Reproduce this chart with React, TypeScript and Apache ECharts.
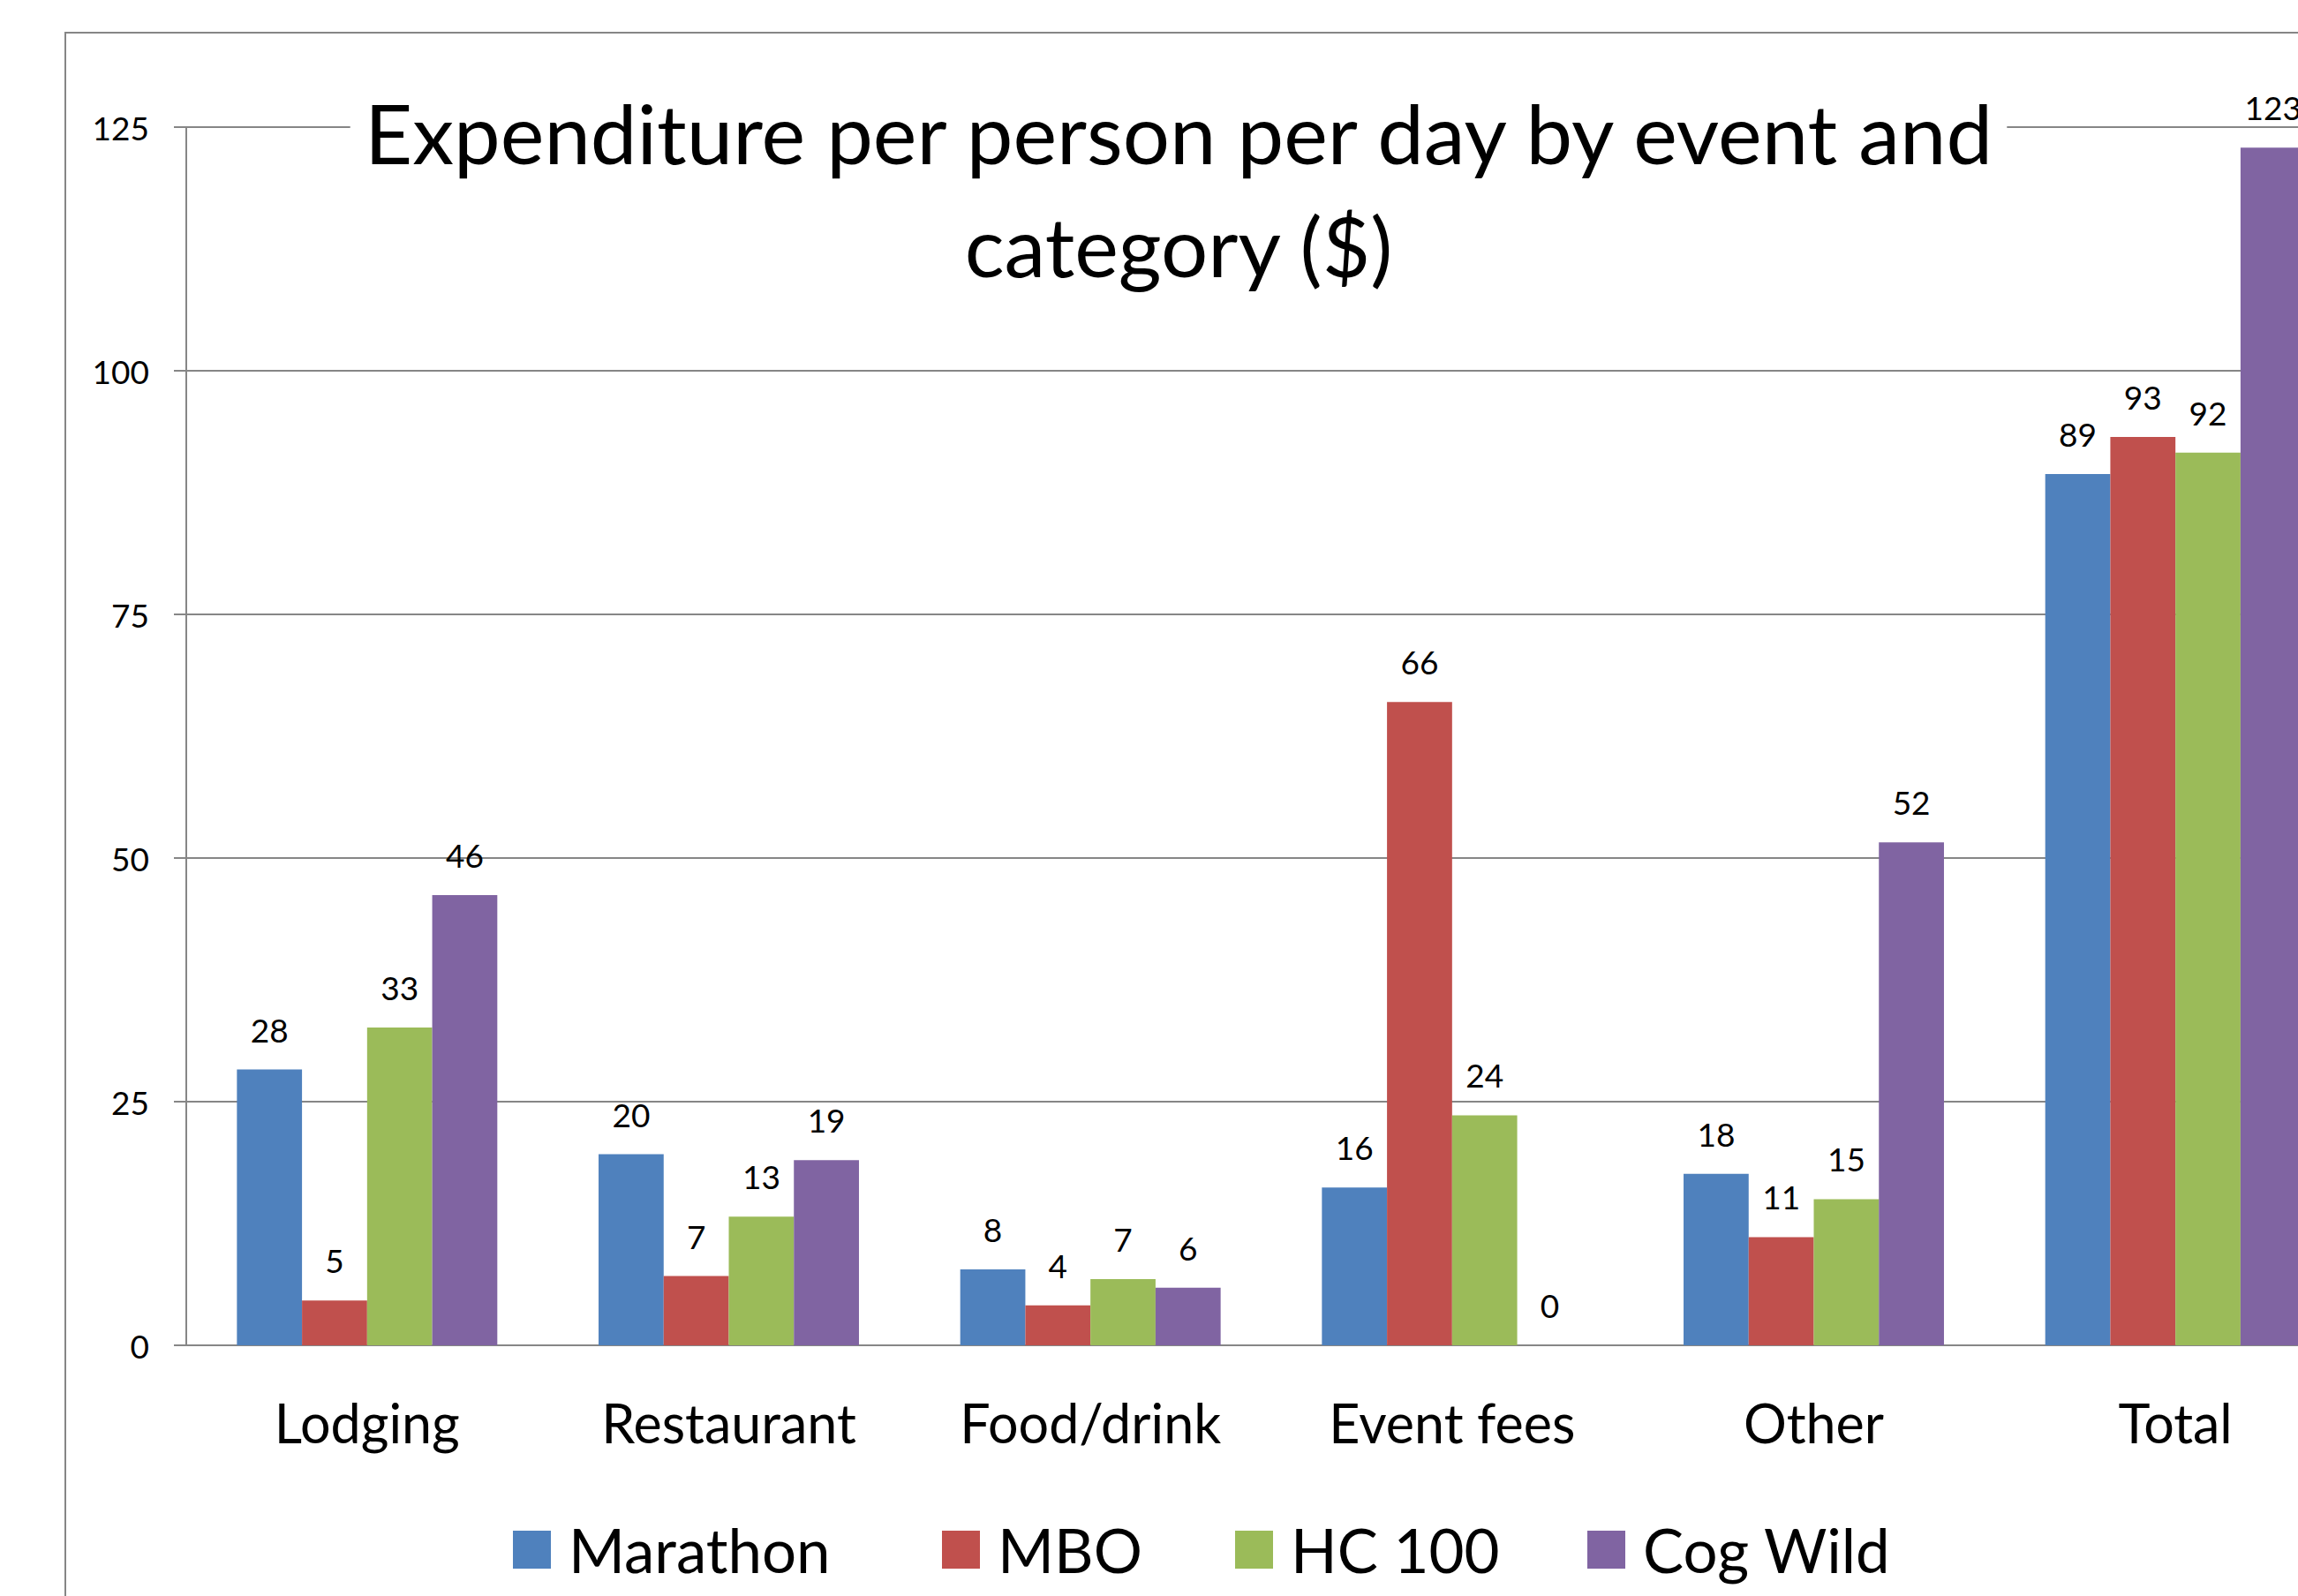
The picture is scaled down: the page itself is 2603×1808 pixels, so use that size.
import React, { useEffect, useRef } from "react";
import * as echarts from "echarts";

const categories = ["Lodging", "Restaurant", "Food/drink", "Event fees", "Other", "Total"];
const seriesNames = ["Marathon", "MBO", "HC 100", "Cog Wild"];
const marathon = [28.3, 19.6, 7.8, 16.2, 17.6, 89.4];
const mbo = [4.6, 7.1, 4.1, 66.0, 11.1, 93.2];
const hc100 = [32.6, 13.2, 6.8, 23.6, 15.0, 91.6];
const cogWild = [46.2, 19.0, 5.9, 0, 51.6, 122.9];
const colors = ["#4F81BD", "#C0504D", "#9BBB59", "#8064A2"];
const yMin = 0;
const yMax = 125;
const yStep = 25;
const titleLines = ["Expenditure per person per day by event and", "category ($)"];
const legendLefts = [581, 1067, 1399, 1798];

const FONT = "Lato";
const GREY = "#868686";

export default function App() {
  const ref = useRef<HTMLDivElement>(null);
  useEffect(() => {
    if (!ref.current) return;
    const chart = echarts.init(ref.current, undefined, { renderer: "svg" });
    const values = [marathon, mbo, hc100, cogWild];
    const option: any = {
      animation: false,
      backgroundColor: "#fff",
      textStyle: { fontFamily: FONT, color: "#000" },
      grid: { left: 211, top: 144, width: 2458, height: 1380 },
      xAxis: {
        type: "category",
        data: categories,
        axisLine: { lineStyle: { color: GREY, width: 2 } },
        axisTick: { length: 23, lineStyle: { color: GREY, width: 2 } },
        axisLabel: { fontSize: 61, fontFamily: FONT, color: "#000", margin: 57 },
      },
      yAxis: {
        type: "value",
        min: yMin,
        max: yMax,
        interval: yStep,
        axisLine: { show: true, lineStyle: { color: GREY, width: 2 } },
        axisTick: { show: true, length: 14, lineStyle: { color: GREY, width: 2 } },
        axisLabel: { fontSize: 37, fontFamily: FONT, color: "#000", margin: 42 },
        splitLine: { lineStyle: { color: GREY, width: 2 } },
      },
      legend: seriesNames.map((n, i) => ({
        left: legendLefts[i],
        top: 1721,
        padding: 0,
        itemWidth: 43,
        itemHeight: 43,
        icon: "rect",
        data: [n],
        textStyle: { fontSize: 69, fontFamily: FONT, color: "#000", padding: [0, 0, 0, 15] },
      })),
      series: seriesNames.map((n, i) => ({
        name: n,
        type: "bar",
        data: values[i],
        barGap: "0%",
        barCategoryGap: "28%",
        itemStyle: { color: colors[i] },
        label: {
          show: true,
          position: "top",
          distance: 27,
          fontSize: 37,
          fontFamily: FONT,
          color: "#000",
          formatter: (p: any) => String(Math.round(p.value)),
        },
      })),
      graphic: [
        {
          type: "rect",
          silent: true,
          z: 50,
          shape: { x: 74, y: 37, width: 3000, height: 3000 },
          style: { fill: "none", stroke: GREY, lineWidth: 2 },
        },
        {
          type: "text",
          silent: true,
          z: 100,
          x: 1335,
          y: 75,
          style: {
            text: titleLines.join("\n"),
            fontSize: 94,
            fontFamily: FONT,
            lineHeight: 128,
            align: "center",
            verticalAlign: "top",
            fill: "#000",
            backgroundColor: "#fff",
            padding: [10, 12, 10, 12],
          },
        },
      ],
    };
    chart.setOption(option);
    return () => chart.dispose();
  }, []);
  return (
    <div
      style={{
        position: "fixed",
        left: 0,
        top: 0,
        width: 2603,
        height: 1808,
        overflow: "hidden",
        background: "#fff",
      }}
    >
      <div ref={ref} style={{ width: 2700, height: 1808 }} />
    </div>
  );
}
